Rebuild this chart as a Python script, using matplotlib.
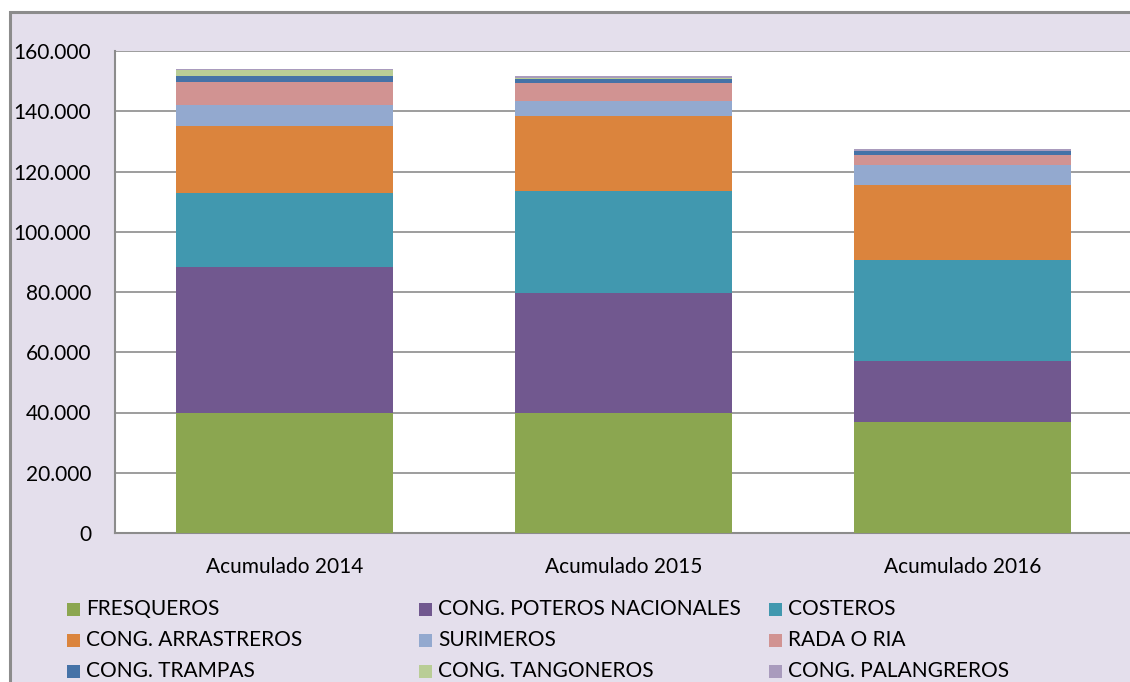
import numpy as np
import matplotlib
matplotlib.use('Agg')
import matplotlib.pyplot as plt
from matplotlib.patches import Rectangle
from matplotlib.ticker import FuncFormatter

plt.rcParams['font.family'] = ['Lato', 'DejaVu Sans']

categories = ['Acumulado 2014', 'Acumulado 2015', 'Acumulado 2016']
series_names = ['FRESQUEROS', 'CONG. POTEROS NACIONALES', 'COSTEROS',
                'CONG. ARRASTREROS', 'SURIMEROS', 'RADA O RIA',
                'CONG. TRAMPAS', 'CONG. TANGONEROS', 'CONG. PALANGREROS']
fresqueros = [40000, 40000, 36800]
poteros = [48300, 39700, 20300]
costeros = [24600, 33800, 33500]
arrastreros = [22200, 24900, 24900]
surimeros = [7000, 5100, 6600]
rada_ria = [7600, 5900, 3300]
trampas = [2000, 1400, 1400]
tangoneros = [2000, 100, 0]
palangreros = [300, 800, 700]
series_vals = [fresqueros, poteros, costeros, arrastreros, surimeros,
               rada_ria, trampas, tangoneros, palangreros]
colors = ['#8BA650', '#71588F', '#4198AF', '#DB843D', '#93A9CF',
          '#D19392', '#4572A7', '#B9CD96', '#A99BBD']

fig = plt.figure(figsize=(11.3, 6.82), dpi=100)
fig.patch.set_facecolor('white')
W, H = 1130, 682
# outer chart frame (cropped at right / bottom)
fig.patches.append(Rectangle((10 / W, -0.05), 1.2, (682 - 12) / H + 0.05,
                             transform=fig.transFigure, facecolor='#E4DFEC',
                             edgecolor='#8C8C8C', linewidth=2.2, zorder=-10))

ax = fig.add_axes([115 / W, (H - 533) / H, 1017 / W, 482 / H])
ax.set_zorder(5)
ax.set_facecolor('white')
x = np.arange(len(categories))
bottom = np.zeros(len(categories))
bars = []
for vals, c in zip(series_vals, colors):
    b = ax.bar(x, vals, 0.643, bottom=bottom, color=c, zorder=3)
    bars.append(b)
    bottom += np.array(vals)

ax.set_xlim(-0.5, 2.5)
ax.set_ylim(0, 160000)
ax.set_yticks(np.arange(0, 160001, 20000))
ax.yaxis.set_major_formatter(FuncFormatter(lambda v, p: '0' if v == 0 else f'{v:,.0f}'.replace(',', '.')))
ax.grid(axis='y', color='#8C8C8C', linewidth=1.2, zorder=0)
ax.set_xticks(x)
ax.set_xticklabels(categories)
ax.tick_params(axis='y', length=0, pad=17, labelsize=15)
ax.tick_params(axis='x', length=0, pad=17, labelsize=15)
for s in ['top', 'right']:
    ax.spines[s].set_visible(False)
for s in ['left', 'bottom']:
    ax.spines[s].set_color('#8C8C8C')
    ax.spines[s].set_linewidth(1.5)

# legend, 3 columns laid out like the original
col_x = [67, 419, 769]
row_y = [609, 640, 671]
for i, (name, c) in enumerate(zip(series_names, colors)):
    cx = col_x[i % 3]
    cy = row_y[i // 3]
    fig.patches.append(Rectangle((cx / W, (H - cy - 6.5) / H), 13 / W, 13 / H,
                                 transform=fig.transFigure, facecolor=c, edgecolor='none'))
    fig.text((cx + 19) / W, (H - cy) / H, name, fontsize=15, va='center', ha='left')

plt.savefig('out.png', dpi=100, facecolor=fig.get_facecolor())
